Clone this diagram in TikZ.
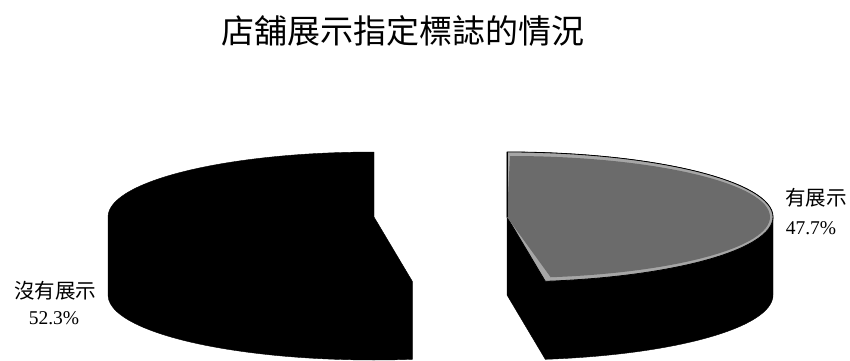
\documentclass[tikz,border=0pt]{standalone}
\usepackage{fontspec}
\setmainfont{Noto Sans CJK TC}
\newfontfamily\numfont{Liberation Serif}
\begin{document}
\begin{tikzpicture}[x=1pt,y=1pt,
  piece/.style={fill=black,draw=black,line join=round},
  topface/.style={fill=black!35,draw=black,line width=0.8pt,line join=round},
  innerface/.style={fill=black!58},
  lbl/.style={inner sep=0pt,font=\fontsize{20.5}{24}\selectfont},
  pct/.style={inner sep=0pt,font=\numfont\fontsize{19.5}{22}\selectfont}]
\useasboundingbox (0,0) rectangle (850,360);
% title
\node[inner sep=0pt,font=\fontsize{33}{36}\selectfont] (title) at (403,329) {店舖展示指定標誌的情況};
% left piece (52.3%)
\coordinate (cl) at (374,143);
\draw[piece] (374,208) arc[start angle=90,end angle=180,x radius=266,y radius=65]
  -- ++(0,-78) arc[start angle=180,end angle=278.28,x radius=266,y radius=65]
  -- ++(0,78) -- (cl) -- cycle;
% right piece (47.7%)
\coordinate (cr) at (507,143);
\draw[piece] (507,208) arc[start angle=90,end angle=0,x radius=266,y radius=65]
  -- ++(0,-78) arc[start angle=0,end angle=-81.72,x radius=266,y radius=65]
  -- (507,65) -- cycle;
\draw[topface] (cr) -- (507,208) arc[start angle=90,end angle=-81.72,x radius=266,y radius=65] -- cycle;
\fill[innerface] (cr) -- (510,204) arc[start angle=90,end angle=-81,x radius=260,y radius=61] -- cycle;
\draw[black,line width=0.8pt] (cr) -- (507,208);
% labels
\node[lbl] (l1) at (55,69) {沒有展示};
\node[pct] (p1) at (54,42) {52.3\%};
\node[lbl] (l2) at (816,162) {有展示};
\node[pct] (p2) at (811,132) {47.7\%};
\end{tikzpicture}
\end{document}
